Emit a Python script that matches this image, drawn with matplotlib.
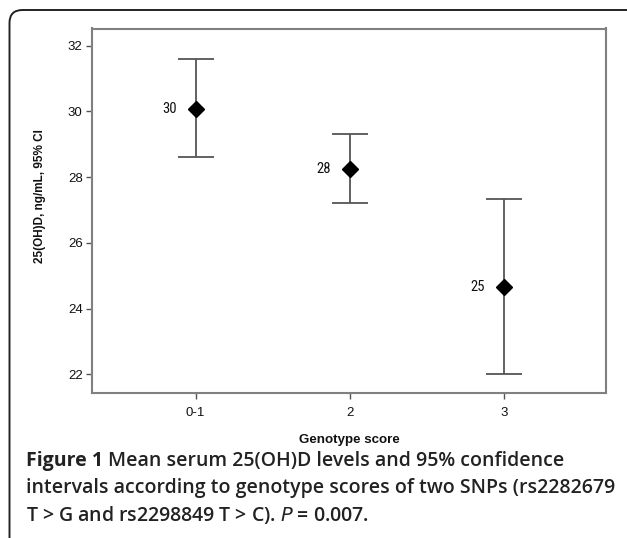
import matplotlib
matplotlib.use("Agg")
import matplotlib.pyplot as plt
from matplotlib.patches import FancyBboxPatch
from matplotlib.transforms import IdentityTransform
from matplotlib import font_manager

categories = ["0-1", "2", "3"]
means = [30.08, 28.25, 24.67]
ci_low = [28.60, 27.20, 22.01]
ci_high = [31.60, 29.31, 27.33]
point_labels = ["30", "28", "25"]
yticks = [22, 24, 26, 28, 30, 32]

available = {f.name for f in font_manager.fontManager.ttflist}
narrow = None
for cand in ["Liberation Sans Narrow", "DejaVu Sans Condensed", "Roboto Condensed",
             "Open Sans Condensed"]:
    if cand in available:
        narrow = cand
        break

W, H = 627, 538
fig = plt.figure(figsize=(W / 100, H / 100), dpi=100)

# outer rounded border (pixel coordinates)
border = FancyBboxPatch((9.5, -60), W + 60, H - 10 + 60,
                        boxstyle="round,pad=0,rounding_size=13",
                        transform=IdentityTransform(), fill=False,
                        edgecolor="#222222", linewidth=1.4, clip_on=False)
fig.patches.append(border)

ax = fig.add_axes([92.3 / W, 1 - 393 / H, (606.3 - 92.3) / W, (393 - 28.5) / H])
x = list(range(len(categories)))
yerr = [[m - l for m, l in zip(means, ci_low)], [h - m for m, h in zip(means, ci_high)]]
ax.errorbar(x, means, yerr=yerr, fmt="none", ecolor="#555555", elinewidth=1.3,
            capsize=13, capthick=1.3)
ax.plot(x, means, linestyle="none", marker="D", markersize=7.8, color="black")
lab_kw = dict(fontsize=10.5, color="#111111")
if narrow:
    lab_kw["family"] = narrow
else:
    lab_kw["family"] = "DejaVu Sans"
    lab_kw["fontstretch"] = "condensed"
for xi, m, lab in zip(x, means, point_labels):
    ax.annotate(lab, (xi, m), xytext=(-13.5, 0), textcoords="offset points",
                ha="right", va="center", **lab_kw)

ax.set_xlim(-0.671, 2.666)
ax.set_ylim(21.43, 32.52)
ax.set_xticks(x)
ax.set_xticklabels(categories)
ax.set_yticks(yticks)
for s in ax.spines.values():
    s.set_color("#808080")
    s.set_linewidth(1.5)
ax.tick_params(direction="out", length=4, width=1, color="#555555",
               labelsize=9.5, labelcolor="#111111")
ax.tick_params(axis="x", pad=6)
ax.tick_params(axis="y", pad=3)
for t in ax.get_xticklabels() + ax.get_yticklabels():
    t.set_family("Liberation Sans")
ax.set_xlabel("Genotype score", fontsize=9.6, family="Liberation Sans",
              fontweight="bold", labelpad=11, color="#111111")
ax.set_ylabel("25(OH)D, ng/mL, 95% CI", fontsize=8.5, family="Liberation Sans",
              fontweight="bold", color="#111111")
ax.yaxis.set_label_coords(-0.09, 0.54)

# caption
cap_font = "Open Sans"
fs = 14
col = "#222222"
renderer = fig.canvas.get_renderer()
t1 = fig.text(26 / W, 1 - 461 / H, "Figure 1", fontsize=fs, family=cap_font,
              fontweight="bold", va="center", ha="left", color=col)
bb = t1.get_window_extent(renderer=renderer)
fig.text((bb.x1 + 5) / W, 1 - 461 / H, "Mean serum 25(OH)D levels and 95% confidence",
         fontsize=fs, family=cap_font, va="center", ha="left", color=col,
         fontweight="semibold")
fig.text(26 / W, 1 - 488 / H,
         "intervals according to genotype scores of two SNPs (rs2282679",
         fontsize=fs, family=cap_font, va="center", ha="left", color=col,
         fontweight="semibold")
fig.text(26 / W, 1 - 515 / H,
         "T > G and rs2298849 T > C). $\\mathit{P}$ = 0.007.",
         fontsize=fs, family=cap_font, va="center", ha="left", color=col,
         fontweight="semibold")

fig.savefig("out.png", dpi=100)
